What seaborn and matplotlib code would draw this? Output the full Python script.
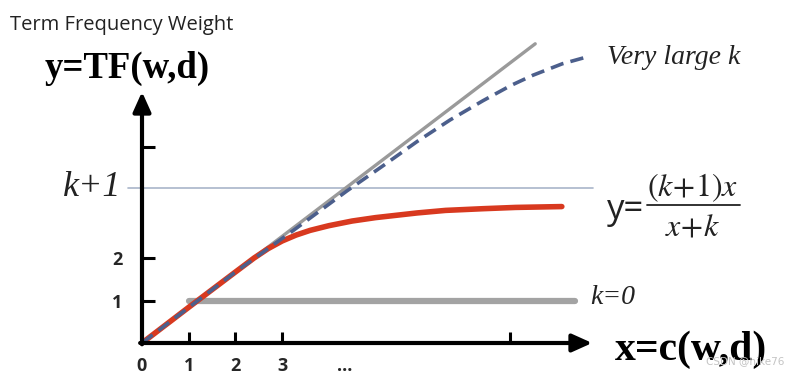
import numpy as np
import pandas as pd
import seaborn as sns
import matplotlib.pyplot as plt

# values (x in c(w,d) units, y in TF units)
diag_x = [0.0, 8.42]
diag_y = [0.0, 7.04]

large_k_x = [0.0, 2.0, 3.23, 4.39, 5.2, 5.89, 6.6, 7.30, 7.9, 8.37, 9.0, 9.59]
large_k_y = [0.0, 1.67, 2.64, 3.58, 4.20, 4.74, 5.25, 5.70, 6.06, 6.30, 6.57, 6.75]

bm25_x = [0.0, 1.0, 2.0, 2.4, 2.7, 3.0, 3.3, 3.6, 4.0, 4.5, 5.0, 5.89, 6.5, 7.3, 8.0, 8.99]
bm25_y = [0.0, 0.84, 1.67, 2.0, 2.22, 2.40, 2.54, 2.65, 2.76, 2.87, 2.95, 3.06, 3.12, 3.16, 3.19, 3.21]

k0_x = [1.0, 9.27]
k0_y = [1.0, 1.0]

kplus1 = 3.65
kplus1_x = [-0.3, 9.66]

x_ticks = [1, 2, 3, 7.88]
x_tick_labels = ["0", "1", "2", "3", "..."]
x_label_pos = [0, 1, 2, 3, 4.35]
y_ticks = [1, 2, 4.61]
y_tick_labels = ["1", "2"]

sns.set_theme(style="white")
plt.rcParams["font.family"] = ["DejaVu Sans"]

fig = plt.figure(figsize=(7.86, 3.75), dpi=100)
ax = fig.add_axes([0, 0, 1, 1])
ax.set_xlim(-142 / 46.7, 644 / 46.7)
ax.set_ylim(-32 / 42.5, 343 / 42.5)
ax.axis("off")

# thin k+1 guide
ax.plot(kplus1_x, [kplus1, kplus1], color="#a9b5c9", lw=1.2, zorder=1)

df = pd.concat([
    pd.DataFrame({"x": diag_x, "y": diag_y, "curve": "diag"}),
    pd.DataFrame({"x": large_k_x, "y": large_k_y, "curve": "large"}),
    pd.DataFrame({"x": bm25_x, "y": bm25_y, "curve": "bm25"}),
    pd.DataFrame({"x": k0_x, "y": k0_y, "curve": "k0"}),
])

sns.lineplot(data=df[df.curve == "k0"], x="x", y="y", color="#a3a3a3", lw=4.5,
             ax=ax, zorder=2, sort=False)
sns.lineplot(data=df[df.curve == "diag"], x="x", y="y", color="#9a9a9a", lw=2.4,
             ax=ax, zorder=3, sort=False)
sns.lineplot(data=df[df.curve == "bm25"], x="x", y="y", color="#d8391f", lw=4,
             ax=ax, zorder=4, sort=False)
sns.lineplot(data=df[df.curve == "large"], x="x", y="y", color="#4c5f8c", lw=2.6,
             ax=ax, zorder=5, sort=False, linestyle=(0, (3.7, 2.0)))
ax.set_xlabel("")
ax.set_ylabel("")

# axes with arrows
arrow = dict(arrowstyle="-|>,head_length=0.6,head_width=0.27", lw=3, color="black",
             shrinkA=0, shrinkB=0, mutation_scale=20)
ax.annotate("", xy=(9.64, 0), xytext=(-0.04, 0), arrowprops=arrow, zorder=6)
ax.annotate("", xy=(0, 5.91), xytext=(0, -0.03), arrowprops=arrow, zorder=6)
ax.vlines(x_ticks, 0, 0.25, color="black", lw=2.2, zorder=6)
ax.hlines(y_ticks, 0, 0.28, color="black", lw=2.2, zorder=6)

for pos, lab in zip(x_label_pos, x_tick_labels):
    ax.text(pos, -0.55, lab, ha="center", va="center", fontsize=13, fontweight="bold",
            family=["Open Sans", "DejaVu Sans"])
for pos, lab in zip(y_ticks[:2], y_tick_labels):
    ax.text(-0.53, pos - 0.05, lab, ha="center", va="center", fontsize=13, fontweight="bold",
            family=["Open Sans", "DejaVu Sans"])

serif = ["Liberation Serif", "DejaVu Serif"]
ax.text(-0.44, kplus1, "k+1", ha="right", va="center", fontsize=26, style="italic",
        family=serif, color="#222222")

fig.text(10 / 786, 1 - 25 / 375, "Term Frequency Weight", ha="left", va="center",
         fontsize=14.5, family=["Open Sans", "DejaVu Sans"], color="#222222")
fig.text(45 / 786, 1 - 68 / 375, "y=TF(w,d)", ha="left", va="center",
         fontsize=26.5, fontweight="bold", family=serif, color="black")
fig.text(607 / 786, 1 - 58 / 375, "Very large k", ha="left", va="center",
         fontsize=20, style="italic", family=serif, color="#222222")
fig.text(590 / 786, 1 - 298 / 375, "k=0", ha="left", va="center",
         fontsize=20, style="italic", family=serif, color="#222222")
fig.text(615 / 786, 1 - 350 / 375, "x=c(w,d)", ha="left", va="center",
         fontsize=30, fontweight="bold", family=serif, color="black")

# formula y = (k+1)x / (x+k)
fig.text(607 / 786, 1 - 210 / 375, "y=", ha="left", va="center",
         fontsize=25, family=["Open Sans", "DejaVu Sans"], color="#222222")
fig.text(693 / 786, 1 - 188 / 375, r"$(k\!+\!1)x$", ha="center", va="center",
         fontsize=23, color="#222222", math_fontfamily="stix")
fig.text(693 / 786, 1 - 227 / 375, r"$x\!+\!k$", ha="center", va="center",
         fontsize=23, color="#222222", math_fontfamily="stix")
fig.add_artist(plt.Line2D([647 / 786, 740 / 786], [1 - 205 / 375, 1 - 205 / 375],
                          color="#222222", lw=1.3))

fig.text(706 / 786, 1 - 361 / 375, "CSDN @hike76", ha="left", va="center",
         fontsize=7.5, color="#c4c4c4")

fig.savefig("out.png", dpi=100)
